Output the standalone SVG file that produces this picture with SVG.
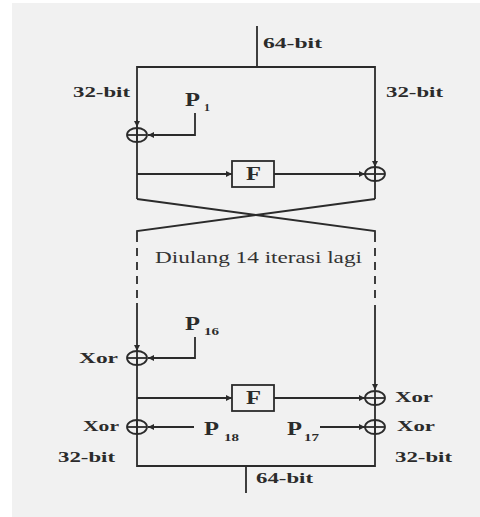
<svg xmlns="http://www.w3.org/2000/svg" width="480" height="517" viewBox="0 0 480 517">
<style>
.ln{stroke:#2b2b2b;stroke-width:1.8;fill:none}
.ar{stroke:#2b2b2b;stroke-width:1.8;fill:none;marker-end:url(#ah)}
.xo{stroke:#2b2b2b;stroke-width:1.8;fill:none}
.b{font-family:"Liberation Serif",serif;font-weight:bold;fill:#2b2b2b;font-size:14px}
.p{font-family:"Liberation Serif",serif;font-weight:bold;fill:#2b2b2b;font-size:18px}
.s{font-family:"Liberation Serif",serif;font-weight:bold;fill:#2b2b2b;font-size:10px}
.n{font-family:"Liberation Serif",serif;fill:#333;font-size:17px}
.box{stroke:#2b2b2b;stroke-width:1.8;fill:#f1f1f1}
</style>
<defs>
<marker id="ah" viewBox="0 0 10 10" refX="10" refY="5" markerWidth="6" markerHeight="6" markerUnits="userSpaceOnUse" orient="auto">
<path d="M0,0 L10,5 L0,10 z" fill="#2b2b2b"/>
</marker>
<g id="xorsym">
<ellipse cx="0" cy="0" rx="10" ry="7" class="xo"/>
<line x1="-10" y1="0" x2="10" y2="0" class="xo"/>
<line x1="0" y1="-7" x2="0" y2="7" class="xo"/>
</g>
</defs>
<rect x="12" y="3" width="468" height="514" fill="#f1f1f1"/>

<g id="connectors">
<line x1="257" y1="26" x2="257" y2="67" class="ln"/>
<polyline points="137,199 137,67 375,67 375,199" class="ln"/>
<line x1="137" y1="120" x2="137" y2="127" class="ar"/>
<line x1="375" y1="160" x2="375" y2="167" class="ar"/>
<polyline points="195,113 195,135 148,135" class="ar"/>
<line x1="137" y1="174" x2="232" y2="174" class="ar"/>
<line x1="274" y1="174" x2="365" y2="174" class="ar"/>
<polyline points="137,199 375,231 375,234" class="ln"/>
<polyline points="375,199 137,231 137,234" class="ln"/>
<line x1="137" y1="234" x2="137" y2="303" class="ln" stroke-dasharray="8 6"/>
<line x1="375" y1="234" x2="375" y2="303" class="ln" stroke-dasharray="8 6"/>
<polyline points="137,303 137,351" class="ar"/>
<polyline points="375,305 375,390" class="ar"/>
<polyline points="195,337 195,358 148,358" class="ar"/>
<line x1="137" y1="398" x2="232" y2="398" class="ar"/>
<line x1="274" y1="398" x2="365" y2="398" class="ar"/>
<line x1="194" y1="427" x2="148" y2="427" class="ar"/>
<line x1="320" y1="427" x2="365" y2="427" class="ar"/>
<polyline points="137,358 137,466 375,466 375,398" class="ln"/>
<line x1="246" y1="466" x2="246" y2="493" class="ln"/>
</g>

<g id="xor1"><use href="#xorsym" x="137" y="135"/></g>
<g id="xor2"><use href="#xorsym" x="375" y="174"/></g>
<g id="f1"><rect x="232" y="161" width="42" height="26" class="box"/><text x="246" y="180" class="p" textLength="15" lengthAdjust="spacingAndGlyphs">F</text></g>
<g id="xor3"><use href="#xorsym" x="137" y="358"/></g>
<g id="xor4"><use href="#xorsym" x="375" y="398"/></g>
<g id="f2"><rect x="232" y="385" width="42" height="26" class="box"/><text x="246" y="404" class="p" textLength="15" lengthAdjust="spacingAndGlyphs">F</text></g>
<g id="xor5"><use href="#xorsym" x="137" y="427"/></g>
<g id="xor6"><use href="#xorsym" x="375" y="427"/></g>

<g id="labels">
<text x="263" y="48" class="b" textLength="59" lengthAdjust="spacingAndGlyphs">64-bit</text>
<text x="73" y="97" class="b" textLength="57" lengthAdjust="spacingAndGlyphs">32-bit</text>
<text x="386" y="97" class="b" textLength="57" lengthAdjust="spacingAndGlyphs">32-bit</text>
<text x="185" y="106" class="p" textLength="15" lengthAdjust="spacingAndGlyphs">P</text>
<text x="204" y="111" class="s" textLength="6" lengthAdjust="spacingAndGlyphs">1</text>
<text x="155" y="263" class="n" textLength="207" lengthAdjust="spacingAndGlyphs">Diulang 14 iterasi lagi</text>
<text x="185" y="330" class="p" textLength="15" lengthAdjust="spacingAndGlyphs">P</text>
<text x="204" y="335" class="s" textLength="15" lengthAdjust="spacingAndGlyphs">16</text>
<text x="79" y="363" class="b" textLength="39" lengthAdjust="spacingAndGlyphs">Xor</text>
<text x="395" y="402" class="b" textLength="38" lengthAdjust="spacingAndGlyphs">Xor</text>
<text x="83" y="431" class="b" textLength="36" lengthAdjust="spacingAndGlyphs">Xor</text>
<text x="397" y="431" class="b" textLength="38" lengthAdjust="spacingAndGlyphs">Xor</text>
<text x="204" y="435" class="p" textLength="15" lengthAdjust="spacingAndGlyphs">P</text>
<text x="224" y="441" class="s" textLength="15" lengthAdjust="spacingAndGlyphs">18</text>
<text x="287" y="435" class="p" textLength="15" lengthAdjust="spacingAndGlyphs">P</text>
<text x="304" y="441" class="s" textLength="15" lengthAdjust="spacingAndGlyphs">17</text>
<text x="58" y="462" class="b" textLength="57" lengthAdjust="spacingAndGlyphs">32-bit</text>
<text x="395" y="462" class="b" textLength="57" lengthAdjust="spacingAndGlyphs">32-bit</text>
<text x="256" y="483" class="b" textLength="57" lengthAdjust="spacingAndGlyphs">64-bit</text>
</g>
</svg>
